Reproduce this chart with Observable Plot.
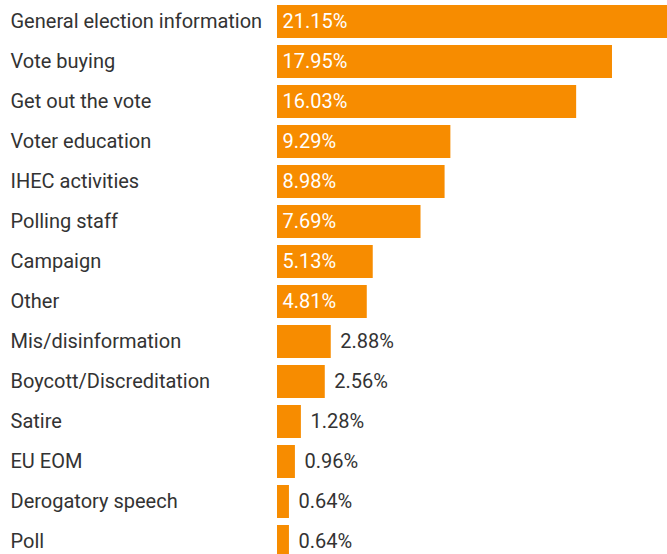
<!DOCTYPE html>
<html>
<head>
<meta charset="utf-8">
<script src="https://cdn.jsdelivr.net/npm/d3@7"></script>
<script src="https://cdn.jsdelivr.net/npm/@observablehq/plot@0.6"></script>
<style>
  html, body { margin: 0; padding: 0; background: #fff; }
  #chart svg { display: block; }
</style>
</head>
<body>
<div id="chart"></div>
<script>
const categories = ["General election information", "Vote buying", "Get out the vote", "Voter education", "IHEC activities", "Polling staff", "Campaign", "Other", "Mis/disinformation", "Boycott/Discreditation", "Satire", "EU EOM", "Derogatory speech", "Poll"];
const values = [21.15, 17.95, 16.03, 9.29, 8.98, 7.69, 5.13, 4.81, 2.88, 2.56, 1.28, 0.96, 0.64, 0.64];

const data = categories.map((c, i) => ({category: c, value: values[i], inside: values[i] > 4}));

const chart = Plot.plot({
  width: 667,
  height: 554,
  marginLeft: 277,
  marginRight: 0,
  marginTop: 0,
  marginBottom: 0,
  style: {fontFamily: "Roboto, sans-serif", fontSize: "20px", background: "#fff"},
  x: {domain: [0, 21.15], range: [277, 671.7], axis: null},
  y: {domain: categories, range: [1.5, 561.5], paddingInner: 0.175, paddingOuter: 0.0875, axis: null},
  marks: [
    Plot.barX(data, {x: "value", y: "category", fill: "#f78c00"}),
    Plot.text(data, {y: "category", text: "category", frameAnchor: "left", dx: -267, textAnchor: "start", fill: "#333", fontSize: 20}),
    Plot.text(data.filter(d => d.inside), {x: 0, y: "category", text: d => d.value.toFixed(2) + "%", textAnchor: "start", dx: 5, fill: "#fff", fontSize: 20}),
    Plot.text(data.filter(d => !d.inside), {x: "value", y: "category", text: d => d.value.toFixed(2) + "%", textAnchor: "start", dx: 9, fill: "#333", fontSize: 20})
  ]
});
document.getElementById("chart").appendChild(chart);
</script>
</body>
</html>
